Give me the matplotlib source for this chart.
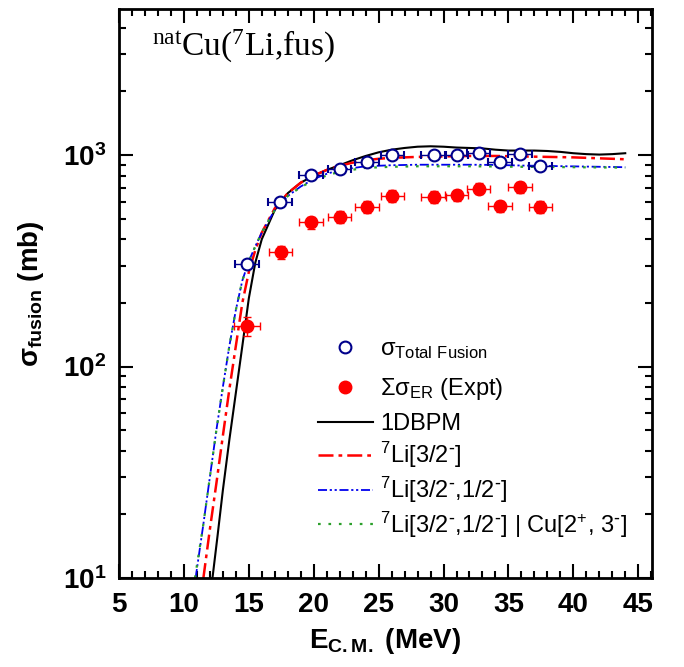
import numpy as np
import matplotlib
matplotlib.use('Agg')
import matplotlib.pyplot as plt
from matplotlib.ticker import MultipleLocator, LogLocator, NullFormatter

plt.rcParams['font.family'] = ['Liberation Sans', 'DejaVu Sans']
plt.rcParams['mathtext.default'] = 'regular'

# Experimental data: total fusion (open) and sum of ER (filled)
E_tot = [14.85, 17.4, 19.8, 22.0, 24.1, 26.05, 29.25, 31.0, 32.7, 34.35, 35.9, 37.45]
sig_tot = [306, 602, 802, 861, 924, 1000, 1000, 1000, 1025, 924, 1011, 888]
E_tot_err = [0.95, 0.9, 0.9, 0.9, 0.9, 0.9, 0.95, 0.9, 0.9, 0.9, 0.9, 0.9]

E_er = [14.85, 17.45, 19.8, 22.0, 24.1, 26.05, 29.25, 31.0, 32.7, 34.35, 35.9, 37.45]
sig_er = [155, 347, 480, 512, 568, 641, 636, 647, 693, 572, 704, 568]
E_er_err = [1.0, 0.9, 0.9, 0.9, 0.9, 0.9, 0.95, 0.9, 0.9, 0.9, 0.9, 0.9]
sig_er_err = [16, 25, 32, 34, 36, 40, 40, 40, 42, 36, 42, 38]

# Calculations
E_bpm = [12.2, 12.6, 13.0, 13.5, 14.0, 14.5, 15.0, 15.5, 16.0, 17.0, 18.0, 19.0, 20.0,
         21.0, 22.0, 23.0, 24.0, 25.0, 26.0, 27.0, 28.0, 29.0, 30.0, 31.0, 32.0, 33.0,
         34.0, 35.0, 36.0, 37.0, 38.0, 39.0, 40.0, 41.0, 42.0, 43.0, 44.0]
sig_bpm = [10, 16, 26, 45, 75, 125, 210, 310, 400, 550, 660, 740, 800,
           850, 895, 945, 990, 1030, 1060, 1080, 1095, 1100, 1095, 1085, 1080, 1075,
           1060, 1050, 1050, 1050, 1045, 1035, 1020, 1010, 1005, 1010, 1020]

E_li32 = [11.5, 12.0, 12.5, 13.0, 13.5, 14.0, 14.5, 15.0, 15.5, 16.0, 17.0, 18.0, 19.0,
          20.0, 21.0, 22.0, 23.0, 24.0, 25.0, 26.0, 27.0, 28.0, 30.0, 32.0, 34.0, 36.0,
          38.0, 40.0, 42.0, 44.0]
sig_li32 = [10, 17, 28, 47, 78, 125, 200, 280, 355, 430, 560, 660, 740,
            800, 850, 890, 920, 945, 960, 970, 975, 980, 985, 990, 990, 985,
            980, 975, 965, 955]

E_li3212 = [10.9, 11.5, 12.0, 12.5, 13.0, 13.5, 14.0, 14.5, 15.0, 15.5, 16.0, 17.0, 18.0,
            19.0, 20.0, 21.0, 22.0, 24.0, 26.0, 28.0, 30.0, 32.0, 34.0, 36.0, 38.0,
            40.0, 42.0, 44.0]
sig_li3212 = [10, 18, 30, 50, 80, 125, 185, 255, 315, 370, 430, 550, 640,
              710, 770, 815, 850, 885, 895, 900, 900, 900, 898, 892, 888,
              884, 880, 876]

E_licu = [10.85, 11.5, 12.0, 12.5, 13.0, 13.5, 14.0, 14.5, 15.0, 15.5, 16.0, 17.0, 18.0,
          19.0, 20.0, 21.0, 22.0, 24.0, 26.0, 28.0, 30.0, 32.0, 34.0, 36.0, 38.0,
          40.0, 42.0, 44.0]
sig_licu = [10, 18, 30, 50, 80, 125, 185, 255, 315, 370, 430, 550, 640,
            705, 760, 800, 835, 870, 880, 885, 885, 885, 883, 880, 878,
            876, 874, 872]

fig = plt.figure(figsize=(6.84, 6.67), dpi=100)
ax = fig.add_axes([0.174, 0.1334, 0.779, 0.853])

l_bpm, = ax.plot(E_bpm, sig_bpm, color='black', lw=1.5)
l_li32, = ax.plot(E_li32, sig_li32, color='red', lw=1.8, dashes=(6, 2, 1.5, 2))
l_li3212, = ax.plot(E_li3212, sig_li3212, color='#0000ee', lw=1.3,
                    dashes=(5, 1.5, 1.2, 1.5, 1.2, 1.5))
l_licu, = ax.plot(E_licu, sig_licu, color='#2ca02c', lw=1.6, dashes=(1.2, 3.5))

h_tot = ax.errorbar(E_tot, sig_tot, xerr=E_tot_err, fmt='o', mfc='white', mec='#00008b',
                    mew=1.5, ms=8.5, ecolor='#00008b', elinewidth=1, capsize=3, zorder=5)
h_er = ax.errorbar(E_er, sig_er, xerr=E_er_err, yerr=sig_er_err, fmt='o', color='red',
                   ms=9, elinewidth=1, capsize=3, zorder=5)

ax.set_yscale('log')
ax.set_xlim(5, 46.05)
ax.set_ylim(10, 4900)

ax.xaxis.set_major_locator(MultipleLocator(5))
ax.xaxis.set_minor_locator(MultipleLocator(1))
ax.set_yticks([10, 100, 1000], [r'10$^{1}$', r'10$^{2}$', r'10$^{3}$'])
ax.yaxis.set_minor_locator(LogLocator(base=10, subs=np.arange(2, 10)))
ax.yaxis.set_minor_formatter(NullFormatter())

ax.tick_params(which='both', direction='in', top=True, right=True, width=1.5)
ax.tick_params(which='major', length=10)
ax.tick_params(which='minor', length=5)
ax.tick_params(axis='x', which='major', pad=10)
ax.tick_params(axis='y', which='major', pad=9)
for lab in ax.get_xticklabels() + ax.get_yticklabels():
    lab.set_fontsize(20)
    lab.set_fontweight('bold')
for s in ax.spines.values():
    s.set_linewidth(2)

ax.set_xlabel(r'E$_{C.M.}$ (MeV)', fontsize=20, fontweight='bold', labelpad=6)
ax.set_ylabel(r'σ$_{fusion}$ (mb)', fontsize=20, fontweight='bold', labelpad=12)

ax.text(0.062, 0.934, r'$^{nat}$Cu($^{7}$Li,fus)', transform=ax.transAxes,
        family='Liberation Serif', fontsize=24, va='center', ha='left')

m = r'$^{\text{-}}$'
leg1 = ax.legend([h_tot[0], h_er[0]],
                 [r'σ$_{Total\ Fusion}$', r'Σσ$_{ER}$ (Expt)'],
                 loc='upper left', bbox_to_anchor=(0.373, 0.421), frameon=False,
                 fontsize=17, handlelength=2.33, handletextpad=0.3, labelspacing=0.62,
                 borderpad=0, borderaxespad=0)
ax.add_artist(leg1)
ax.legend([l_bpm, l_li32, l_li3212, l_licu],
          ['1DBPM', r'$^{7}$Li[3/2' + m + ']', r'$^{7}$Li[3/2' + m + ',1/2' + m + ']',
           r'$^{7}$Li[3/2' + m + ',1/2' + m + r'] | Cu[2$^{+}$, 3' + m + ']'],
          loc='upper left', bbox_to_anchor=(0.373, 0.29), frameon=False,
          fontsize=17, handlelength=2.33, handletextpad=0.3, labelspacing=0.2,
          borderpad=0, borderaxespad=0)

fig.savefig('out.png', dpi=100)
